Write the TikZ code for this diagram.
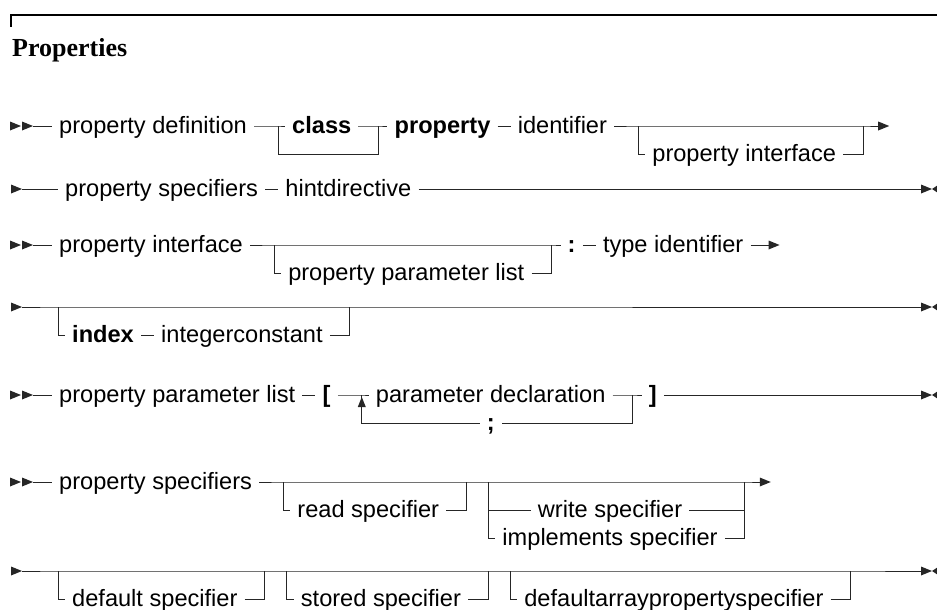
\documentclass[tikz,border=0pt]{standalone}
\usepackage{fontspec}
\newfontfamily\sdsans{Liberation Sans}
\newfontfamily\sdserif{Liberation Serif}
\usetikzlibrary{positioning,calc}
\tikzset{
 lc/.style={draw=black!85, line width=1pt},
 it/.style={anchor=west, inner xsep=7pt, inner ysep=0pt, text height=17pt, text depth=3pt, font=\sdsans\fontsize{23.6}{28}\selectfont},
 bit/.style={it, font=\sdsans\bfseries\fontsize{23.6}{28}\selectfont},
 hd/.style={fill=black!85},
}
\newcommand\sdR[1]{\fill[hd] (#1) -- ++(-11,-4.5) -- ++(0,9) -- cycle;}
\newcommand\sdEnd[1]{\fill[hd] ($(#1)+(11,0)$) -- ++(-11,-4.5) -- ++(0,9) -- cycle;
  \fill[hd] ($(#1)+(11,0)$) -- ++(6,-4) -- ++(0,8) -- cycle;}
\begin{document}
\begin{tikzpicture}[x=1pt,y=-1pt]
\useasboundingbox (0,0) rectangle (937,610);
% frame and title
\draw[draw=black, line width=1.3pt] (11,27) -- (11,15) -- (937,15);
\node[anchor=base west, inner sep=0pt, font=\sdserif\bfseries\fontsize{26}{30}\selectfont] (title) at (12,57) {Properties};

% ---------- Row 1
\sdR{21,126} \sdR{33,126}
\coordinate (s1) at (33,126);
\node[it] (pd) at (52,126) {property definition};
\coordinate (b1l) at ($(pd.east)+(24,0)$);
\node[bit] (cls) at ($(b1l)+(7,0)$) {class};
\coordinate (b1r) at ($(cls.east)+(20,0)$);
\node[bit] (prp) at ($(b1r)+(9,0)$) {property};
\node[it, right=13pt of prp] (idf) {identifier};
\coordinate (b2l) at ($(idf.east)+(24,0)$);
\node[it] (pif) at ($(b2l)+(7,28)$) {property interface};
\coordinate (b2r) at ($(pif.east)+(20,-28)$);
\coordinate (e1) at ($(b2r)+(15,0)$);
\draw[lc] (s1) -- (pd.west);
\draw[lc] (pd.east) -- (b1l) -- (cls.west);
\draw[lc] (cls.east) -- (b1r) -- (prp.west);
\draw[lc] (b1l) -- ($(b1l)+(0,28)$) -- ($(b1r)+(0,28)$) -- (b1r);
\draw[lc] (prp.east) -- (idf.west);
\draw[lc] (idf.east) -- (b2l) -- (b2r) -- (e1);
\draw[lc] (b2l) -- ($(b2l)+(0,28)$) -- (pif.west);
\draw[lc] (pif.east) -- ($(b2r)+(0,28)$) -- (b2r);
\sdR{$(e1)+(11,0)$}

% ---------- Row 2
\sdR{22,189}
\coordinate (s2) at (22,189);
\node[it] (ps2) at (58,189) {property specifiers};
\node[it, right=13pt of ps2] (hdv) {hintdirective};
\coordinate (e2) at (921,189);
\draw[lc] (s2) -- (ps2.west);
\draw[lc] (ps2.east) -- (hdv.west);
\draw[lc] (hdv.east) -- (e2);
\sdEnd{e2}

% ---------- Row 3
\sdR{21,245} \sdR{33,245}
\coordinate (s3) at (33,245);
\node[it] (pi3) at (52,245) {property interface};
\coordinate (b3l) at ($(pi3.east)+(24,0)$);
\node[it] (ppl3) at ($(b3l)+(7,28)$) {property parameter list};
\coordinate (b3r) at ($(ppl3.east)+(20,-28)$);
\node[bit] (col) at ($(b3r)+(9,0)$) {:};
\node[it, right=13pt of col] (tid) {type identifier};
\coordinate (e3) at ($(tid.east)+(18,0)$);
\draw[lc] (s3) -- (pi3.west);
\draw[lc] (pi3.east) -- (b3l) -- (b3r) -- (col.west);
\draw[lc] (b3l) -- ($(b3l)+(0,28)$) -- (ppl3.west);
\draw[lc] (ppl3.east) -- ($(b3r)+(0,28)$) -- (b3r);
\draw[lc] (col.east) -- (tid.west);
\draw[lc] (tid.east) -- (e3);
\sdR{$(e3)+(11,0)$}

% ---------- Row 4
\sdR{22,307}
\coordinate (s4) at (22,307);
\coordinate (b4l) at (58,307);
\node[bit] (idx) at ($(b4l)+(7,28)$) {index};
\node[it, right=13pt of idx] (icn) {integerconstant};
\coordinate (b4r) at ($(icn.east)+(20,-28)$);
\coordinate (e4) at (921,307);
\draw[lc] (s4) -- (b4l) -- (b4r) -- (e4);
\draw[lc] (b4l) -- ($(b4l)+(0,28)$) -- (idx.west);
\draw[lc] (idx.east) -- (icn.west);
\draw[lc] (icn.east) -- ($(b4r)+(0,28)$) -- (b4r);
\sdEnd{e4}

% ---------- Row 5
\sdR{21,395} \sdR{33,395}
\coordinate (s5) at (33,395);
\node[it] (ppl5) at (52,395) {property parameter list};
\node[bit, right=13pt of ppl5] (lbr) {[};
\coordinate (j5) at ($(lbr.east)+(24,0)$);
\node[it] (pdc) at ($(j5)+(7,0)$) {parameter declaration};
\coordinate (r5) at ($(pdc.east)+(20,0)$);
\node[bit, anchor=center] (smc) at ($(j5)!0.5!(r5)+(-6.5,28)$) {;};
\node[bit] (rbr) at ($(r5)+(9,0)$) {]};
\coordinate (e5) at (921,395);
\draw[lc] (s5) -- (ppl5.west);
\draw[lc] (ppl5.east) -- (lbr.west);
\draw[lc] (lbr.east) -- (j5) -- (pdc.west);
\draw[lc] (pdc.east) -- (r5) -- (rbr.west);
\draw[lc] (rbr.east) -- (e5);
\draw[lc] (r5) -- ($(r5)+(0,28)$) -- (smc.east);
\draw[lc] (smc.west) -- ($(j5)+(0,28)$) -- (j5);
\fill[hd] ($(j5)+(0,2)$) -- ++(-4,10) -- ++(8,0) -- cycle;
\sdEnd{e5}

% ---------- Row 6
\sdR{21,482} \sdR{33,482}
\coordinate (s6) at (33,482);
\node[it] (ps6) at (52,482) {property specifiers};
\coordinate (a6l) at ($(ps6.east)+(24,0)$);
\node[it] (rsp) at ($(a6l)+(7,28)$) {read specifier};
\coordinate (a6r) at ($(rsp.east)+(20,-28)$);
\coordinate (b6l) at ($(a6r)+(22,0)$);
\node[it] (ims) at ($(b6l)+(7,56)$) {implements specifier};
\coordinate (b6r) at ($(ims.east)+(20,-56)$);
\node[it, anchor=center] (wsp) at ($(b6l)!0.5!(b6r)+(-6.5,28)$) {write specifier};
\coordinate (e6) at ($(b6r)+(15,0)$);
\draw[lc] (s6) -- (ps6.west);
\draw[lc] (ps6.east) -- (a6l) -- (a6r) -- (b6l) -- (b6r) -- (e6);
\draw[lc] (a6l) -- ($(a6l)+(0,28)$) -- (rsp.west);
\draw[lc] (rsp.east) -- ($(a6r)+(0,28)$) -- (a6r);
\draw[lc] (b6l) -- ($(b6l)+(0,56)$) -- (ims.west);
\draw[lc] (ims.east) -- ($(b6r)+(0,56)$) -- (b6r);
\draw[lc] ($(b6l)+(0,28)$) -- (wsp.west);
\draw[lc] (wsp.east) -- ($(b6r)+(0,28)$);
\sdR{$(e6)+(11,0)$}

% ---------- Row 7
\sdR{22,571}
\coordinate (s7) at (22,571);
\coordinate (c7l) at (58,571);
\node[it] (dsp) at ($(c7l)+(7,28)$) {default specifier};
\coordinate (c7r) at ($(dsp.east)+(20,-28)$);
\coordinate (d7l) at ($(c7r)+(22,0)$);
\node[it] (ssp) at ($(d7l)+(7,28)$) {stored specifier};
\coordinate (d7r) at ($(ssp.east)+(20,-28)$);
\coordinate (f7l) at ($(d7r)+(22,0)$);
\node[it] (dap) at ($(f7l)+(7,28)$) {defaultarraypropertyspecifier};
\coordinate (f7r) at ($(dap.east)+(20,-28)$);
\coordinate (e7) at (921,571);
\draw[lc] (s7) -- (c7l) -- (c7r) -- (d7l) -- (d7r) -- (f7l) -- (f7r) -- (e7);
\draw[lc] (c7l) -- ($(c7l)+(0,28)$) -- (dsp.west);
\draw[lc] (dsp.east) -- ($(c7r)+(0,28)$) -- (c7r);
\draw[lc] (d7l) -- ($(d7l)+(0,28)$) -- (ssp.west);
\draw[lc] (ssp.east) -- ($(d7r)+(0,28)$) -- (d7r);
\draw[lc] (f7l) -- ($(f7l)+(0,28)$) -- (dap.west);
\draw[lc] (dap.east) -- ($(f7r)+(0,28)$) -- (f7r);
\sdEnd{e7}
\end{tikzpicture}
\end{document}
